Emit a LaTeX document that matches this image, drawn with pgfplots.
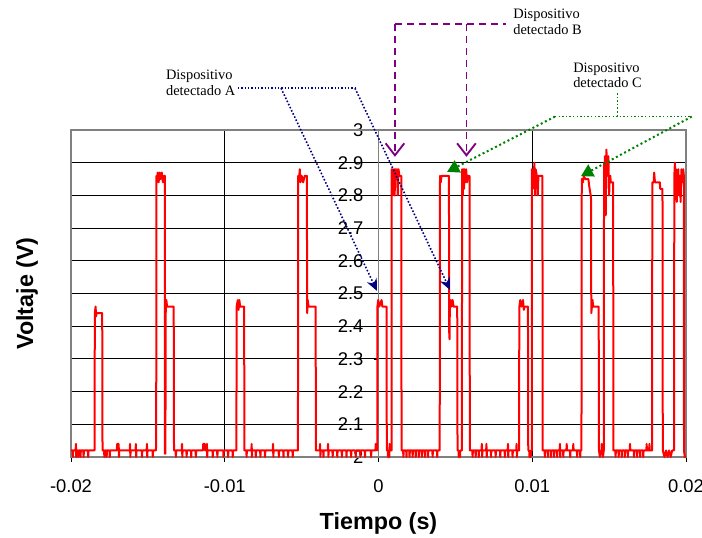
\documentclass[border=0pt]{standalone}
\usepackage{pgfplots}
\pgfplotsset{compat=1.18}
\usepackage{fontspec}
\setmainfont{Liberation Sans}
\newfontfamily\annfont{Liberation Serif}
\usetikzlibrary{arrows.meta}
\definecolor{sigred}{RGB}{255,0,0}
\definecolor{annA}{RGB}{0,0,128}
\definecolor{annB}{RGB}{128,0,128}
\definecolor{annC}{RGB}{0,128,0}
\begin{document}
\begin{tikzpicture}
\useasboundingbox (-53.25pt,-60pt) rectangle (473.25pt,342.75pt);
\begin{axis}[
  at={(0,0)}, anchor=south west,
  scale only axis, width=461.25pt, height=245.25pt,
  xmin=-20, xmax=20, ymin=2, ymax=3,
  clip=false,
  axis x line=bottom, axis y line=middle,
  every outer x axis line/.append style={-, black, line width=0.6pt},
  every inner y axis line/.append style={-, gray, line width=0.8pt},
  hide obscured x ticks=false, hide obscured y ticks=false,
  xtick={-20,-10,0,10,20},
  xticklabels={-0.02,-0.01,0,0.01,0.02},
  ytick={2,2.1,2.2,2.3,2.4,2.5,2.6,2.7,2.8,2.9,3},
  yticklabels={2,2.1,2.2,2.3,2.4,2.5,2.6,2.7,2.8,2.9,3},
  tick align=outside, major tick length=3.75pt,
  tick style={black, line width=0.6pt},
  tick label style={font=\fontsize{13.8}{16}\selectfont},
  xticklabel style={yshift=-9.5pt},
  yticklabel style={xshift=-4pt},
  grid=major,
  major grid style={black, line width=0.65pt},
  xlabel={Tiempo (s)}, ylabel={Voltaje (V)},
  every axis x label/.style={at={(rel axis cs:0.5,-0.2018)}, anchor=center, font=\fontsize{17.5}{21}\selectfont\bfseries},
  every axis y label/.style={at={(rel axis cs:-0.0716,0.5)}, anchor=center, rotate=90, font=\fontsize{17.5}{21}\selectfont\bfseries},
]
\draw[gray, line width=0.8pt] (rel axis cs:0,0) rectangle (rel axis cs:1,1);
\addplot[sigred, line width=1.5pt, mark=none, line join=round] coordinates {
(-20.00,2.02)(-19.90,2.02)(-19.88,2.00)(-19.86,2.02)(-19.70,2.02)(-19.68,2.04)(-19.66,2.00)(-19.64,2.02)
(-19.55,2.02)(-19.53,2.00)(-19.51,2.02)(-19.40,2.02)(-19.38,2.00)(-19.36,2.02)(-19.20,2.02)(-19.18,2.00)
(-19.16,2.02)(-18.90,2.02)(-18.88,2.00)(-18.86,2.02)(-18.70,2.02)(-18.47,2.02)
(-18.45,2.44)(-18.40,2.46)(-18.37,2.43)(-18.33,2.44)(-18.30,2.44)(-17.97,2.44)(-17.95,2.02)
(-17.85,2.02)(-17.83,2.00)(-17.80,2.02)(-17.70,2.02)(-17.68,2.00)(-17.66,2.02)(-17.50,2.02)(-17.48,2.00)
(-17.46,2.02)(-17.02,2.02)(-17.00,2.04)(-16.90,2.04)(-16.88,2.00)(-16.86,2.02)(-16.18,2.02)(-16.16,2.04)
(-16.14,2.00)(-16.12,2.02)(-15.80,2.02)(-15.78,2.04)(-15.76,2.00)(-15.74,2.02)(-15.40,2.02)(-15.38,2.00)
(-15.36,2.02)(-15.08,2.02)(-15.06,2.04)(-15.04,2.00)(-15.02,2.02)(-14.70,2.02)(-14.68,2.00)(-14.66,2.02)
(-14.48,2.02)(-14.46,2.04)
(-14.44,2.86)(-14.40,2.84)(-14.36,2.87)(-14.30,2.84)(-14.24,2.87)(-14.18,2.85)(-14.10,2.87)(-14.02,2.84)
(-13.95,2.86)(-13.90,2.86)(-13.89,2.01)(-13.86,2.01)(-13.84,2.44)(-13.80,2.48)(-13.75,2.46)(-13.32,2.46)(-13.30,2.02)
(-13.20,2.02)(-13.18,2.00)(-13.16,2.02)(-12.80,2.02)(-12.78,2.04)(-12.76,2.00)(-12.74,2.02)(-12.50,2.02)
(-12.48,2.00)(-12.46,2.02)(-12.20,2.02)(-12.18,2.00)(-12.16,2.02)(-11.90,2.02)(-11.88,2.00)(-11.86,2.02)
(-11.42,2.02)(-11.40,2.04)(-11.30,2.04)(-11.28,2.02)(-11.18,2.02)(-11.16,2.04)(-11.14,2.00)(-11.12,2.02)
(-10.80,2.02)(-10.78,2.00)(-10.76,2.02)(-10.50,2.02)(-10.48,2.00)(-10.46,2.02)(-10.10,2.02)(-10.08,2.00)
(-10.06,2.02)(-9.80,2.02)(-9.78,2.00)(-9.76,2.02)(-9.50,2.02)(-9.48,2.00)(-9.46,2.02)(-9.24,2.02)
(-9.23,2.46)(-9.15,2.48)(-9.10,2.45)(-9.05,2.48)(-9.00,2.46)(-8.74,2.46)(-8.72,2.02)
(-8.60,2.02)(-8.58,2.00)(-8.56,2.02)(-8.27,2.02)(-8.25,2.04)(-8.23,2.00)(-8.21,2.02)(-8.00,2.02)
(-7.98,2.00)(-7.96,2.02)(-7.70,2.02)(-7.68,2.00)(-7.66,2.02)(-7.40,2.02)(-7.38,2.00)(-7.36,2.02)
(-6.88,2.02)(-6.86,2.04)(-6.84,2.00)(-6.82,2.02)(-6.50,2.02)(-6.48,2.00)(-6.46,2.02)(-6.20,2.02)
(-6.18,2.00)(-6.16,2.02)(-5.90,2.02)(-5.88,2.00)(-5.86,2.02)(-5.60,2.02)(-5.58,2.00)(-5.56,2.02)(-5.24,2.02)
(-5.22,2.86)(-5.17,2.85)(-5.12,2.88)(-5.08,2.84)(-5.00,2.86)(-4.90,2.84)(-4.80,2.86)(-4.66,2.86)
(-4.64,2.44)(-4.60,2.48)(-4.55,2.46)(-4.09,2.46)(-4.07,2.02)
(-3.95,2.02)(-3.82,2.02)(-3.80,2.04)(-3.78,2.00)(-3.76,2.02)(-3.60,2.02)(-3.58,2.00)(-3.56,2.02)(-3.30,2.02)
(-3.28,2.04)(-3.26,2.00)(-3.24,2.02)(-3.00,2.02)(-2.98,2.00)(-2.96,2.02)(-2.70,2.02)(-2.68,2.00)
(-2.66,2.02)(-2.40,2.02)(-2.38,2.00)(-2.36,2.02)(-2.10,2.02)(-2.08,2.00)(-2.06,2.02)(-1.80,2.02)
(-1.78,2.00)(-1.76,2.02)(-1.50,2.02)(-1.48,2.00)(-1.46,2.02)(-1.20,2.02)(-1.18,2.00)(-1.16,2.02)
(-0.90,2.02)(-0.88,2.00)(-0.86,2.02)(-0.50,2.02)(-0.48,2.00)(-0.46,2.02)(-0.20,2.02)(-0.18,2.04)(-0.10,2.02)(-0.08,2.02)
(-0.07,2.46)(-0.02,2.48)(0.05,2.46)(0.20,2.48)(0.25,2.46)(0.52,2.46)(0.54,2.02)
(0.60,2.02)(0.62,2.00)(0.70,2.00)(0.72,2.04)(0.80,2.02)(0.85,2.02)
(0.86,2.88)(0.90,2.80)(0.93,2.88)(0.98,2.82)(1.02,2.88)(1.05,2.80)(1.09,2.88)(1.15,2.86)(1.20,2.88)
(1.25,2.80)(1.30,2.88)(1.36,2.86)(1.48,2.86)(1.50,2.02)
(1.60,2.02)(1.62,2.00)(1.64,2.02)(1.80,2.02)(1.82,2.00)(1.84,2.02)(2.00,2.02)(2.02,2.00)(2.04,2.02)
(2.20,2.02)(2.22,2.00)(2.24,2.02)(2.40,2.02)(2.42,2.00)(2.44,2.02)(2.60,2.02)(2.62,2.00)(2.64,2.02)
(2.80,2.02)(2.82,2.00)(2.84,2.02)(3.00,2.02)(3.02,2.00)(3.04,2.02)(3.20,2.02)(3.22,2.00)(3.24,2.02)
(3.50,2.02)(3.52,2.00)(3.54,2.02)(3.80,2.02)(3.82,2.00)(3.84,2.02)(3.98,2.02)
(4.00,2.86)(4.05,2.84)(4.10,2.86)(4.30,2.86)(4.45,2.86)(4.58,2.86)(4.60,2.38)(4.62,2.36)(4.64,2.46)
(4.70,2.48)(4.75,2.46)(4.82,2.48)(4.88,2.46)(5.12,2.46)(5.14,2.02)
(5.20,2.02)(5.22,2.00)(5.30,2.00)(5.32,2.02)(5.42,2.02)
(5.44,2.88)(5.48,2.80)(5.52,2.88)(5.56,2.82)(5.60,2.88)(5.65,2.84)(5.70,2.88)(5.76,2.84)(5.80,2.86)
(5.92,2.86)(5.94,2.02)
(6.10,2.02)(6.12,2.00)(6.14,2.02)(6.30,2.02)(6.32,2.00)(6.34,2.02)(6.50,2.02)(6.52,2.00)(6.54,2.02)
(6.70,2.02)(6.72,2.04)(6.74,2.00)(6.76,2.02)(7.00,2.02)(7.02,2.04)(7.04,2.00)(7.06,2.02)(7.30,2.02)
(7.32,2.00)(7.34,2.02)(7.60,2.02)(7.62,2.00)(7.64,2.02)(7.90,2.02)(7.92,2.00)(7.94,2.02)(8.20,2.02)
(8.22,2.00)(8.24,2.02)(8.40,2.02)(8.42,2.04)(8.44,2.00)(8.46,2.02)(8.70,2.02)(8.72,2.00)(8.74,2.02)
(8.96,2.02)(8.98,2.04)(9.00,2.00)(9.02,2.02)(9.14,2.02)
(9.16,2.46)(9.22,2.48)(9.30,2.46)(9.40,2.48)(9.45,2.45)(9.50,2.46)(9.72,2.46)(9.74,2.02)
(9.80,2.02)(9.82,2.00)(9.90,2.00)(9.92,2.02)(9.97,2.02)
(9.98,2.88)(10.02,2.82)(10.06,2.88)(10.10,2.86)(10.14,2.90)(10.18,2.80)(10.22,2.88)(10.30,2.86)
(10.36,2.80)(10.40,2.86)(10.50,2.86)(10.66,2.86)(10.68,2.02)
(10.80,2.02)(10.82,2.00)(10.84,2.02)(11.00,2.02)(11.02,2.00)(11.04,2.02)(11.20,2.02)(11.22,2.00)
(11.24,2.02)(11.40,2.02)(11.42,2.00)(11.44,2.02)(11.60,2.02)(11.62,2.00)(11.64,2.02)(11.78,2.02)
(11.80,2.04)(11.82,2.00)(11.84,2.02)(12.00,2.02)(12.02,2.00)(12.04,2.02)(12.22,2.02)(12.24,2.04)
(12.26,2.02)(12.45,2.02)(12.47,2.00)(12.49,2.02)(12.65,2.02)(12.67,2.04)(12.69,2.02)(12.90,2.02)
(12.92,2.00)(12.94,2.02)(13.10,2.02)(13.12,2.00)(13.14,2.02)(13.20,2.02)
(13.22,2.85)(13.30,2.84)(13.35,2.86)(13.45,2.85)(13.65,2.85)(13.70,2.83)(13.80,2.80)(13.82,2.80)
(13.84,2.44)(13.88,2.46)(13.92,2.48)(13.96,2.46)(14.32,2.46)(14.34,2.02)
(14.40,2.00)(14.50,2.02)(14.52,2.04)(14.60,2.00)(14.65,2.02)
(14.67,2.90)(14.70,2.76)(14.73,2.92)(14.78,2.74)(14.82,2.94)(14.86,2.90)(14.90,2.86)(14.95,2.92)
(15.00,2.80)(15.04,2.86)(15.08,2.86)(15.10,2.84)(15.26,2.84)(15.28,2.02)
(15.40,2.02)(15.42,2.00)(15.44,2.02)(15.60,2.02)(15.62,2.00)(15.64,2.02)(15.80,2.02)(15.82,2.00)
(15.84,2.02)(16.00,2.02)(16.02,2.00)(16.04,2.02)(16.20,2.02)(16.22,2.00)(16.24,2.02)(16.34,2.02)
(16.36,2.04)(16.38,2.02)(16.60,2.02)(16.62,2.00)(16.64,2.02)(16.80,2.02)(16.82,2.00)(16.84,2.02)
(17.00,2.02)(17.02,2.00)(17.04,2.02)(17.20,2.02)(17.22,2.00)(17.24,2.02)(17.42,2.02)(17.44,2.04)
(17.46,2.02)(17.60,2.02)(17.62,2.04)(17.64,2.02)(17.79,2.02)
(17.81,2.84)(17.90,2.84)(17.93,2.87)(17.98,2.84)(18.20,2.84)(18.30,2.84)(18.32,2.82)(18.47,2.82)(18.49,2.02)
(18.60,2.00)(18.70,2.02)(18.80,2.00)(18.90,2.02)(19.00,2.00)(19.10,2.02)(19.22,2.02)
(19.24,2.86)(19.28,2.90)(19.32,2.80)(19.36,2.88)(19.40,2.78)(19.44,2.86)(19.50,2.88)(19.55,2.80)
(19.60,2.86)(19.65,2.78)(19.70,2.88)(19.76,2.84)(19.82,2.88)(19.86,2.86)(19.87,2.02)(19.92,2.00)(20.00,2.00)
};
% Annotation A
\node[anchor=east, inner sep=0pt, align=left, font=\annfont\fontsize{10.8}{11.5}\selectfont] at (axis cs:-9.3,3.144) {Dispositivo\\detectado A};
\draw[annA, line width=1.1pt, dash pattern=on 1.1pt off 1.4pt] (axis cs:-9.14,3.128) -- (axis cs:-1.53,3.128);
\draw[annA, line width=1.2pt, dash pattern=on 1.2pt off 1.4pt, -{Stealth[length=9pt,width=8pt]}] (axis cs:-6.34,3.128) -- (axis cs:-0.10,2.508);
\draw[annA, line width=1.2pt, dash pattern=on 1.2pt off 1.4pt, -{Stealth[length=9pt,width=8pt]}] (axis cs:-1.53,3.128) -- (axis cs:4.65,2.511);
% Annotation B
\node[anchor=west, inner sep=0pt, align=left, font=\annfont\fontsize{10.8}{11.8}\selectfont] at (axis cs:8.75,3.33) {Dispositivo\\detectado B};
\draw[annB, line width=1.4pt, dash pattern=on 5pt off 4pt] (axis cs:1.07,3.324) -- (axis cs:8.29,3.324);
\draw[annB, line width=1.4pt, dash pattern=on 5pt off 4pt, -{Straight Barb[length=9pt,width=14pt]}] (axis cs:1.07,3.324) -- (axis cs:1.07,2.918);
\draw[annB, line width=1.4pt, dash pattern=on 5pt off 4pt, -{Straight Barb[length=9pt,width=14pt]}] (axis cs:5.72,3.324) -- (axis cs:5.72,2.918);
% Annotation C
\node[anchor=west, inner sep=0pt, align=left, font=\annfont\fontsize{10.8}{11.5}\selectfont] at (axis cs:12.65,3.168) {Dispositivo\\detectado C};
\draw[annC, line width=1.1pt, dash pattern=on 1.1pt off 1.6pt] (axis cs:15.56,3.113) -- (axis cs:15.56,3.041);
\draw[annC, line width=1.1pt, dash pattern=on 1.1pt off 1.6pt] (axis cs:11.48,3.041) -- (axis cs:20.37,3.041);
\draw[annC, line width=1.5pt, dash pattern=on 1.5pt off 2pt, -{Triangle[length=9pt,width=10pt]}] (axis cs:11.48,3.041) -- (axis cs:4.46,2.872);
\draw[annC, line width=1.5pt, dash pattern=on 1.5pt off 2pt, -{Triangle[length=9pt,width=10pt]}] (axis cs:20.37,3.041) -- (axis cs:13.17,2.859);
\end{axis}
\end{tikzpicture}
\end{document}
